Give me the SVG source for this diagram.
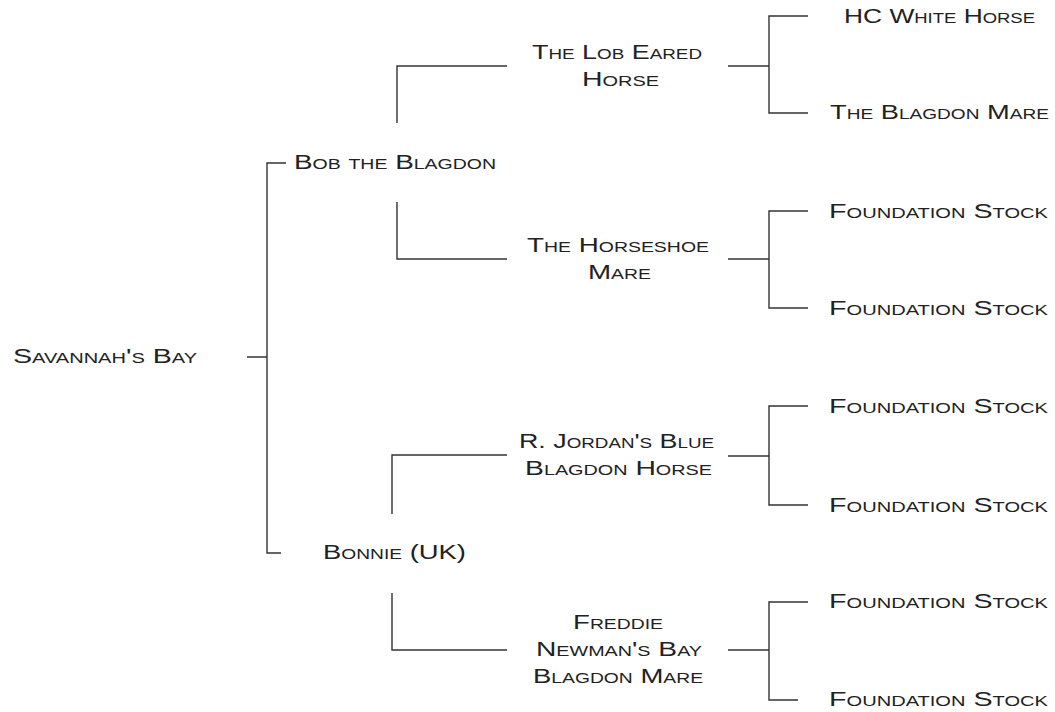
<svg xmlns="http://www.w3.org/2000/svg" width="1055" height="712" viewBox="0 0 1055 712">
<style>
.t{font-family:"Liberation Sans",Arial,sans-serif;font-size:20px;font-variant:small-caps;fill:#222}
.c{fill:none;stroke:#333;stroke-width:1.4}
</style>
<rect width="1055" height="712" fill="#fff"/>
<g id="connectors" class="c">
<path d="M247,357H267M286,163H267V553H281"/>
<path d="M507,66H397V123M397,202V259H507"/>
<path d="M507,455H392V514M392,593V650H507"/>
<path d="M728,66H769M808,16H769V113H808"/>
<path d="M728,259H769M808,211H769V308H808"/>
<path d="M728,456H769M808,406H769V505H808"/>
<path d="M728,650H769M808,602H769V700H798"/>
</g>
<g id="n-savannah"><text class="t" x="13" y="363" textLength="184" lengthAdjust="spacingAndGlyphs">Savannah's Bay</text></g>
<g id="n-bob"><text class="t" x="294" y="169" textLength="202" lengthAdjust="spacingAndGlyphs">Bob the Blagdon</text></g>
<g id="n-bonnie"><text class="t" x="323" y="559" textLength="143" lengthAdjust="spacingAndGlyphs">Bonnie (UK)</text></g>
<g id="n-lob">
<text class="t" x="532" y="59" textLength="170" lengthAdjust="spacingAndGlyphs">The Lob Eared</text>
<text class="t" x="582" y="86" textLength="77" lengthAdjust="spacingAndGlyphs">Horse</text>
</g>
<g id="n-horseshoe">
<text class="t" x="527" y="252" textLength="182" lengthAdjust="spacingAndGlyphs">The Horseshoe</text>
<text class="t" x="588" y="279" textLength="63" lengthAdjust="spacingAndGlyphs">Mare</text>
</g>
<g id="n-jordan">
<text class="t" x="519" y="448" textLength="195" lengthAdjust="spacingAndGlyphs">R. Jordan's Blue</text>
<text class="t" x="525" y="475" textLength="187" lengthAdjust="spacingAndGlyphs">Blagdon Horse</text>
</g>
<g id="n-freddie">
<text class="t" x="573" y="629" textLength="90" lengthAdjust="spacingAndGlyphs">Freddie</text>
<text class="t" x="536" y="656" textLength="166" lengthAdjust="spacingAndGlyphs">Newman's Bay</text>
<text class="t" x="533" y="683" textLength="170" lengthAdjust="spacingAndGlyphs">Blagdon Mare</text>
</g>
<g id="n-hcwhite"><text class="t" x="844" y="23" textLength="191" lengthAdjust="spacingAndGlyphs">HC White Horse</text></g>
<g id="n-blagdonmare"><text class="t" x="830" y="119" textLength="219" lengthAdjust="spacingAndGlyphs">The Blagdon Mare</text></g>
<g id="n-fs1"><text class="t" x="829" y="218" textLength="219" lengthAdjust="spacingAndGlyphs">Foundation Stock</text></g>
<g id="n-fs2"><text class="t" x="829" y="315" textLength="219" lengthAdjust="spacingAndGlyphs">Foundation Stock</text></g>
<g id="n-fs3"><text class="t" x="829" y="413" textLength="219" lengthAdjust="spacingAndGlyphs">Foundation Stock</text></g>
<g id="n-fs4"><text class="t" x="829" y="512" textLength="219" lengthAdjust="spacingAndGlyphs">Foundation Stock</text></g>
<g id="n-fs5"><text class="t" x="829" y="608" textLength="219" lengthAdjust="spacingAndGlyphs">Foundation Stock</text></g>
<g id="n-fs6"><text class="t" x="829" y="706" textLength="219" lengthAdjust="spacingAndGlyphs">Foundation Stock</text></g>
</svg>
